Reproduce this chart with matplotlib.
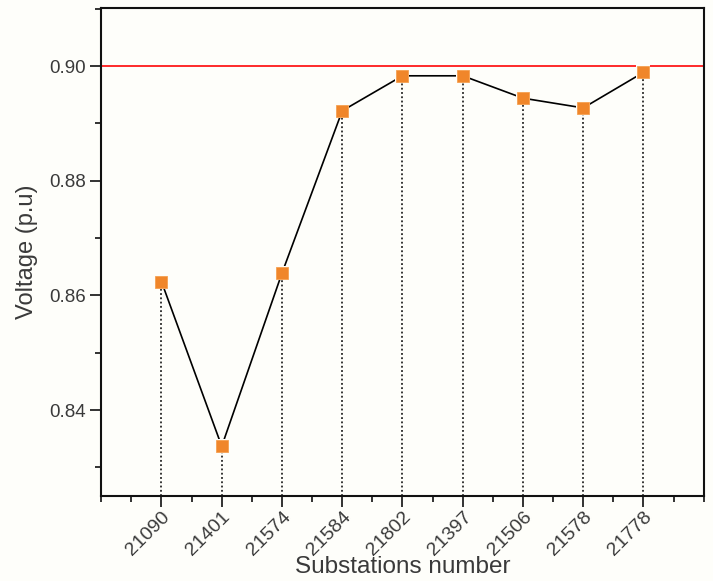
import matplotlib
matplotlib.use("Agg")
import matplotlib.pyplot as plt
from matplotlib.ticker import MultipleLocator

plt.rcParams["font.family"] = ["Liberation Sans", "DejaVu Sans"]

BG = "#fefefa"
TEXT = "#3a3a3a"

substations = ["21090", "21401", "21574", "21584", "21802",
               "21397", "21506", "21578", "21778"]
voltage = [0.8624, 0.8337, 0.8639, 0.8922, 0.8983,
           0.8983, 0.8944, 0.8927, 0.8989]
limit = 0.90

positions = list(range(1, len(substations) + 1))

fig = plt.figure(figsize=(7.13, 5.81), dpi=100, facecolor=BG)
ax = fig.add_axes([0.142, 0.146, 0.845, 0.840], facecolor=BG)

ax.set_xlim(0, 10)
ax.set_ylim(0.825, 0.9101)

# drop lines from each point to the x axis
ax.vlines(positions, 0.825, voltage, colors="black", linestyles=(0, (1.2, 1.6)),
          linewidth=1.1, zorder=2)
ax.axhline(limit, color="#ff2a2a", linewidth=1.4, zorder=2)

ax.plot(positions, voltage, color="black", linewidth=1.2, zorder=3)
# background square behind each marker leaves a small gap in the line
ax.plot(positions, voltage, linestyle="none", marker="s", markersize=10.5,
        color=BG, markeredgewidth=0, zorder=4)
ax.plot(positions, voltage, linestyle="none", marker="s", markersize=8,
        color="#f0862a", markeredgecolor="#f5a050", markeredgewidth=0.6, zorder=5)

ax.set_xticks(positions)
ax.set_xticklabels(substations, rotation=45, ha="right", rotation_mode="anchor",
                   fontsize=14, color=TEXT)
ax.xaxis.set_minor_locator(MultipleLocator(0.5))
ax.set_yticks([0.84, 0.86, 0.88, 0.90])
ax.set_yticklabels(["0.84", "0.86", "0.88", "0.90"], fontsize=13.5, color=TEXT)
ax.yaxis.set_minor_locator(MultipleLocator(0.01))

ax.tick_params(which="major", direction="out", length=8, width=1.3, color="#222222")
ax.tick_params(which="minor", direction="out", length=4, width=1.3, color="#222222")
ax.tick_params(axis="x", pad=1)
ax.tick_params(axis="y", pad=3)

for side in ax.spines.values():
    side.set_linewidth(1.5)
    side.set_color("#111111")

ax.set_xlabel("Substations number", fontsize=17.5, color=TEXT)
ax.xaxis.set_label_coords(0.5, -0.122)
ax.set_ylabel("Voltage (p.u)", fontsize=17, color=TEXT, labelpad=8)

fig.savefig("out.png", dpi=100, facecolor=BG)
